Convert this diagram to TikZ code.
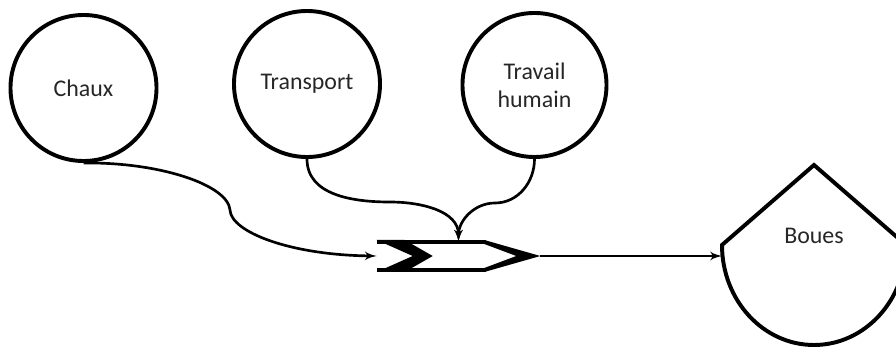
\documentclass[tikz,border=0pt]{standalone}
\usepackage{fontspec}
\setmainfont{Carlito}
\usepackage{tikz}
\usetikzlibrary{calc, shapes, arrows}
\usetikzlibrary{positioning}
\tikzstyle{poste} = [circle, draw, line width=2.8pt, minimum size=3.65cm, align=center, text=black!85]
\tikzstyle{connector} = [draw, line width=1.9pt, -latex']
\tikzstyle{bord} = [line width=3pt]

\begin{document}
\begin{tikzpicture}[x=0.025cm, y=0.025cm, font=\fontsize{17}{20}\selectfont]
        \useasboundingbox (0,0) rectangle (896,349);

        \node[poste] (Chaux) at (83.5, 261) {Chaux};
        \node[poste] (Transport) at (307, 265) {Transport};
        \node[poste, minimum size=3.6cm] (Travail) at (534.5, 264) {Travail\\humain};

        % fleche du flux
        \node[minimum width=4.075cm, minimum height=0.7cm, inner sep=0pt] (flux) at (458.5, 93) {};
        \draw[bord] (flux.north west) -- ($(flux.north east)+(-54, 0)$);
        \draw[bord] (flux.south west) -- ($(flux.south east)+(-54, 0)$);
        \fill[shift={(flux.west)}] (0, 16) -- (28, 16) -- (56, 0) -- (28, -16) -- (0, -16) -- (36, 0) -- cycle;
        \fill[shift={(flux.east)}] (-56, 16) -- (0, 0) -- (-56, -16) -- (-56, -12) -- (-24, 0) -- (-56, 12) -- cycle;

        % stock de boues
        \coordinate (bouesL) at (722, 104);
        \draw[line width=2.8pt] (bouesL) -- (814, 184) -- (906, 104)
            arc[start angle=0, end angle=-180, x radius=92, y radius=100] -- cycle;
        \node[text=black!85] (Boues) at (814, 113) {Boues};

        \draw[connector] (Chaux.south) .. controls (160, 187) and (228, 164) .. (230, 139)
            .. controls (231, 117) and (290, 94) .. (flux.west);
        \draw[connector] (Transport.south) to[out=-90, in=180] (390, 147) to[out=0, in=90] (flux.north);
        \draw[connector] (Travail.south) to[out=-90, in=0] (495, 146) to[out=180, in=90] (flux.north);
        \draw[connector] (flux.east) -- (bouesL |- flux.east);

    \end{tikzpicture}
\end{document}
